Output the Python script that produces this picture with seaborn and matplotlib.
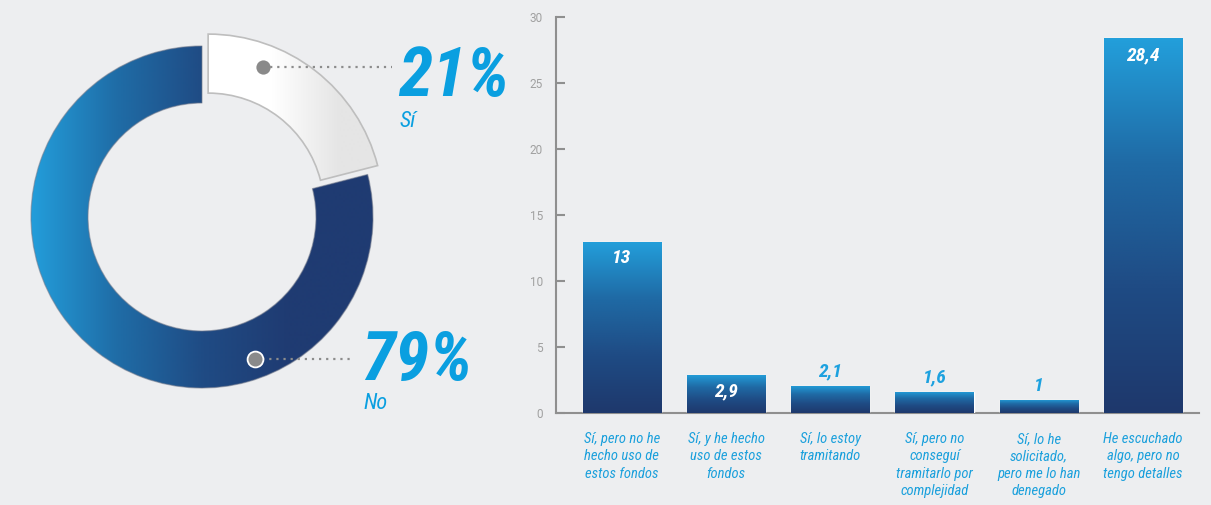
import numpy as np
import pandas as pd
import matplotlib
matplotlib.use("Agg")
import matplotlib.pyplot as plt
from matplotlib.colors import LinearSegmentedColormap
import seaborn as sns

# ---------------- data ----------------
donut_labels = ["Sí", "No"]
donut_values = [21, 79]
donut_texts = ["21%", "79%"]

categories = [
    "Sí, pero no he\nhecho uso de\nestos fondos",
    "Sí, y he hecho\nuso de estos\nfondos",
    "Sí, lo estoy\ntramitando",
    "Sí, pero no\nconseguí\ntramitarlo por\ncomplejidad",
    "Sí, lo he\nsolicitado,\npero me lo han\ndenegado",
    "He escuchado\nalgo, pero no\ntengo detalles",
]
values = [13, 2.9, 2.1, 1.6, 1, 28.4]
value_labels = ["13", "2,9", "2,1", "1,6", "1", "28,4"]
y_ticks = [0, 5, 10, 15, 20, 25, 30]

# ---------------- style ----------------
BG = "#EDEEF0"
BLUE_TXT = "#0A9FE0"
sns.set_theme(style="white")
plt.rcParams["font.family"] = ["Roboto Condensed", "DejaVu Sans"]
plt.rcParams["font.stretch"] = "condensed"

fig = plt.figure(figsize=(12.11, 5.05), dpi=100, facecolor=BG)

# ---------------- donut ----------------
axd = fig.add_axes([0, 0, 520 / 1211, 1])
axd.set_facecolor(BG)
cx, cy, R, W = 202, 288, 171, 57
wedges, _ = axd.pie(donut_values, radius=R, center=(cx, cy), startangle=90,
                    counterclock=False, explode=[10, 0], frame=True,
                    wedgeprops=dict(width=W, linewidth=0))
wedges[0].set_radius(175)
wedges[0].set_width(59)
axd.set_xlim(0, 520)
axd.set_ylim(0, 505)
axd.set_aspect("auto")
axd.axis("off")

xs = np.linspace(0, 520, 521)
t_blue = np.clip((xs - 31) / (290 - 31), 0, 1)
blue_cmap = LinearSegmentedColormap.from_list(
    "ring", ["#239DDA", "#1F6CA6", "#1F4B84", "#1F3B72"])
im_b = axd.imshow(t_blue[None, :], cmap=blue_cmap, vmin=0, vmax=1,
                  extent=[0, 520, 0, 505], aspect="auto", zorder=2,
                  interpolation="bilinear")
im_b.set_clip_path(wedges[1])

t_white = np.clip((xs - 272) / (340 - 272), 0, 1)
white_cmap = LinearSegmentedColormap.from_list("w", ["#FFFFFF", "#E5E5E5"])
im_w = axd.imshow(t_white[None, :], cmap=white_cmap, vmin=0, vmax=1,
                  extent=[0, 520, 0, 505], aspect="auto", zorder=2,
                  interpolation="bilinear")
im_w.set_clip_path(wedges[0])

wedges[0].set_facecolor("none")
wedges[0].set_edgecolor("#BEBEBE")
wedges[0].set_linewidth(1.2)
wedges[0].set_zorder(3)
wedges[1].set_facecolor("none")
wedges[1].set_edgecolor((0.45, 0.48, 0.55, 0.55))
wedges[1].set_linewidth(0.9)
wedges[1].set_zorder(3)
axd.set_xlim(0, 520)
axd.set_ylim(0, 505)

# leaders, dots and labels
axd.plot([263, 392], [438, 438], color="#8C8C8C", lw=1.6,
         linestyle=(0, (1, 2.2)), zorder=4, solid_capstyle="round")
axd.scatter([263], [438], s=105, color="#8A8A8A", zorder=5, linewidths=0)
axd.plot([255, 350], [146, 146], color="#8C8C8C", lw=1.6,
         linestyle=(0, (1, 2.2)), zorder=4)
axd.scatter([255], [146], s=130, color="#8A8A8A", zorder=5,
            edgecolors="white", linewidths=1.3)

axd.text(398, 505 - 96, donut_texts[0], fontsize=50, fontweight="bold",
         fontstyle="italic", color=BLUE_TXT, ha="left", va="baseline")
axd.text(400, 505 - 127, donut_labels[0], fontsize=16, fontstyle="italic",
         color=BLUE_TXT, ha="left", va="baseline")
axd.text(361, 505 - 380, donut_texts[1], fontsize=50, fontweight="bold",
         fontstyle="italic", color=BLUE_TXT, ha="left", va="baseline")
axd.text(363, 505 - 409, donut_labels[1], fontsize=16, fontstyle="italic",
         color=BLUE_TXT, ha="left", va="baseline")

# ---------------- bar chart ----------------
ax = fig.add_axes([556 / 1211, 1 - 413.3 / 505, (1199 - 556) / 1211,
                   (413.3 - 17.3) / 505])
ax.set_facecolor("none")
df = pd.DataFrame({"categoria": categories, "valor": values})
sns.barplot(data=df, x="categoria", y="valor", color="#1F3A70", width=0.75,
            saturation=1, ax=ax)

bar_cmap = LinearSegmentedColormap.from_list(
    "bar", ["#1E386C", "#1F4B84", "#1F6AA5", "#239FDB"])
grad = np.linspace(0, 1, 256)[:, None]
for p in ax.patches:
    x0, y0, w, h = p.get_x(), p.get_y(), p.get_width(), p.get_height()
    im = ax.imshow(grad, cmap=bar_cmap, vmin=0, vmax=1, origin="lower",
                   extent=[x0, x0 + w, y0, y0 + h], aspect="auto",
                   zorder=p.get_zorder() + 0.1, interpolation="bilinear")
    im.set_clip_path(p)

for i, (v, lab) in enumerate(zip(values, value_labels)):
    if v >= 2.5:
        ax.annotate(lab, (i, v), xytext=(0, -5.5), textcoords="offset points",
                    ha="center", va="top", color="white", fontsize=14,
                    fontweight="bold", fontstyle="italic", zorder=5)
    else:
        ax.annotate(lab, (i, v), xytext=(0, 4), textcoords="offset points",
                    ha="center", va="bottom", color="#1DA1DF", fontsize=14,
                    fontweight="bold", fontstyle="italic", zorder=5)

ax.set_xlim(-0.631, 5.537)
ax.set_ylim(0, 30)
ax.set_yticks(y_ticks)
ax.set_xlabel("")
ax.set_ylabel("")
ax.tick_params(axis="y", direction="in", length=6.5, width=1.5,
               color="#8F8F8F", labelsize=8.5, labelcolor="#A0A0A0", pad=9.5,
               left=True)
ax.tick_params(axis="x", length=0, pad=13.5, labelsize=10.5,
               labelcolor="#1BA0DC")
for lab in ax.get_yticklabels():
    lab.set_fontfamily(["Roboto", "DejaVu Sans"])
    lab.set_fontstretch("normal")
for lab in ax.get_xticklabels():
    lab.set_fontstyle("italic")
    lab.set_linespacing(1.3)
for s in ["top", "right"]:
    ax.spines[s].set_visible(False)
for s in ["left", "bottom"]:
    ax.spines[s].set_color("#8F8F8F")
    ax.spines[s].set_linewidth(1.5)
ax.spines["bottom"].set_zorder(0.5)

fig.savefig("out.png", dpi=100, facecolor=BG)
